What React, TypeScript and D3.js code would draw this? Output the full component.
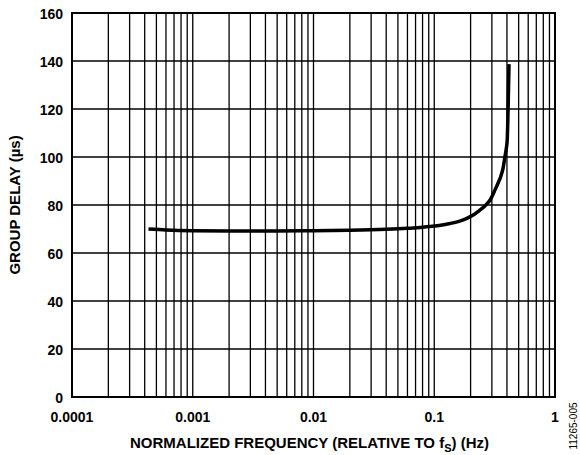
import React from 'react';
import * as d3 from 'd3';

// group delay vs normalized frequency
const freq = [0.00043, 0.0006, 0.001, 0.002, 0.005, 0.01, 0.02, 0.04, 0.06, 0.08, 0.092, 0.11, 0.135, 0.16, 0.186, 0.21, 0.239, 0.265, 0.29, 0.318, 0.34, 0.355, 0.372, 0.385, 0.395, 0.402, 0.408, 0.412, 0.416];
const delay = [70, 69.6, 69.3, 69.2, 69.2, 69.3, 69.5, 69.9, 70.3, 70.7, 71, 71.5, 72.3, 73.2, 74.4, 75.8, 77.9, 79.8, 82.1, 86.2, 89.5, 91.8, 95.5, 100.1, 103.5, 107, 118, 128, 138.7];

const yTicks = [0, 20, 40, 60, 80, 100, 120, 140, 160];
const xTicks = [0.0001, 0.001, 0.01, 0.1, 1];
const xTickLabels = ['0.0001', '0.001', '0.01', '0.1', '1'];

const W = 580;
const H = 455;
const m = { left: 72, top: 13, right: 555, bottom: 397 };

const App: React.FC = () => {
    const x = d3.scaleLog().domain([0.0001, 1]).range([m.left, m.right]);
    const y = d3.scaleLinear().domain([0, 160]).range([m.bottom, m.top]);

    // minor grid: 2..9 in every decade
    const minor: number[] = [];
    for (let d = -4; d < 0; d++) {
        for (let k = 2; k <= 9; k++) minor.push(k * Math.pow(10, d));
    }

    const line = d3.line<number>()
        .x((_, i) => x(freq[i]))
        .y(d => y(d))
        .curve(d3.curveMonotoneX);

    const font = 'Arial, "Liberation Sans", Helvetica, sans-serif';

    return (
        <svg width={W} height={H} style={{ position: 'absolute', left: 0, top: 0, background: '#fff' }} fontFamily={font}>
            <rect x={0} y={0} width={W} height={H} fill="#fff" />
            {minor.concat(xTicks).map((v, i) => (
                <line key={'vx' + i} x1={x(v)} x2={x(v)} y1={m.top} y2={m.bottom} stroke="#000" strokeWidth={1.3} />
            ))}
            {yTicks.map((v, i) => (
                <line key={'hy' + i} x1={m.left} x2={m.right} y1={y(v)} y2={y(v)} stroke="#000" strokeWidth={1.3} />
            ))}
            <rect x={m.left} y={m.top} width={m.right - m.left} height={m.bottom - m.top} fill="none" stroke="#000" strokeWidth={2} />
            <path d={line(delay) || ''} fill="none" stroke="#000" strokeWidth={3.5} strokeLinejoin="round" strokeLinecap="butt" />
            {yTicks.map((v, i) => (
                <text key={'yl' + i} x={63} y={y(v) + 6} textAnchor="end" fontSize={14} fontWeight="bold">{v}</text>
            ))}
            {xTicks.map((v, i) => (
                <text key={'xl' + i} x={x(v)} y={422} textAnchor="middle" fontSize={14} fontWeight="bold">{xTickLabels[i]}</text>
            ))}
            <text x={(m.left + m.right) / 2 - 4} y={448} textAnchor="middle" fontSize={15} fontWeight="bold">
                NORMALIZED FREQUENCY (RELATIVE TO f<tspan fontSize={11} dy={4}>S</tspan><tspan dy={-4}>) (Hz)</tspan>
            </text>
            <text transform={`translate(20,${(m.top + m.bottom) / 2}) rotate(-90)`} textAnchor="middle" fontSize={15} fontWeight="bold">
                GROUP DELAY (µs)
            </text>
            <text transform={`translate(577,426) rotate(-90)`} textAnchor="middle" fontSize={10}>11265-005</text>
        </svg>
    );
};

export default App;
